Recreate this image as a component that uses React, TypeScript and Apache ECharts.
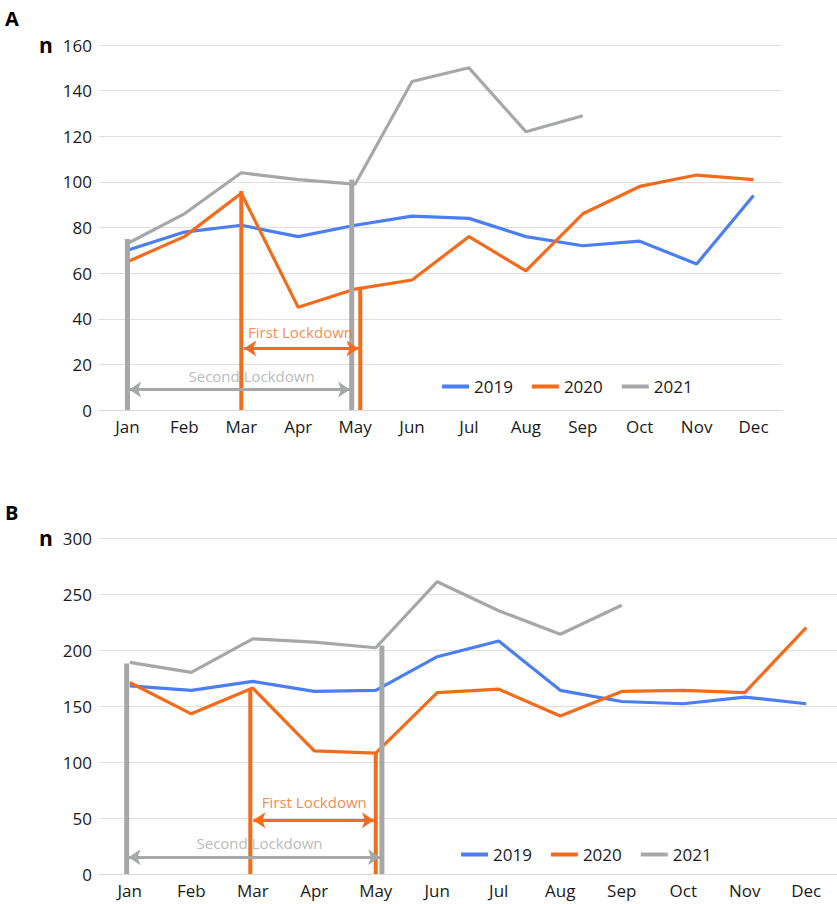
import React, { useEffect, useRef } from "react";
import * as echarts from "echarts";

const months = ["Jan", "Feb", "Mar", "Apr", "May", "Jun", "Jul", "Aug", "Sep", "Oct", "Nov", "Dec"];
const years = ["2019", "2020", "2021"];

// Panel A
const a2019 = [70, 78, 81, 76, 81, 85, 84, 76, 72, 74, 64, 94];
const a2020 = [65, 76, 95, 45, 53, 57, 76, 61, 86, 98, 103, 101];
const a2021 = [73, 86, 104, 101, 99, 144, 150, 122, 129];
const aTicks = { min: 0, max: 160, interval: 20 };
// lockdown markers (month index, heights)
const aFirst = { start: 2, end: 4.09, startTop: 96, endTop: 54, arrowY: 27, labelX: 3.04, labelY: 34 };
const aSecond = { start: 0, end: 3.94, startTop: 75, endTop: 101, arrowY: 9, labelX: 2.18, labelY: 15 };

// Panel B
const b2019 = [168, 164, 172, 163, 164, 194, 208, 164, 154, 152, 158, 152];
const b2020 = [171, 143, 166, 110, 108, 162, 165, 141, 163, 164, 162, 220];
const b2021 = [189, 180, 210, 207, 202, 261, 235, 214, 240];
const bTicks = { min: 0, max: 300, interval: 50 };
const bFirst = { start: 1.96, end: 4.0, startTop: 166, endTop: 108, arrowY: 48, labelX: 3.0, labelY: 64 };
const bSecond = { start: -0.05, end: 4.1, startTop: 188, endTop: 204, arrowY: 15, labelX: 2.11, labelY: 28 };

const BLUE = "#4A7EF2";
const ORANGE = "#F46B1C";
const GRAY = "#A6A8A7";
const FONT = "Open Sans";

function panelSeries(g: number, d19: number[], d20: number[], d21: number[], first: any, second: any) {
  const cx = 2 * g;
  const vx = 2 * g + 1;
  const dataLine = (name: string, data: number[], color: string) => ({
    type: "line",
    name,
    xAxisIndex: cx,
    yAxisIndex: g,
    data,
    symbol: "none",
    lineStyle: { color, width: 3.2 },
    itemStyle: { color },
    z: 3,
  });
  const vline = (x: number, top: number, color: string, width: number) => ({
    type: "line",
    xAxisIndex: vx,
    yAxisIndex: g,
    data: [[x, 0], [x, top]],
    symbol: "none",
    lineStyle: { color, width, cap: "butt" },
    silent: true,
    z: 4,
  });
  const arrow = (from: number, to: number, y: number, color: string) => ({
    type: "line",
    xAxisIndex: vx,
    yAxisIndex: g,
    data: [],
    silent: true,
    markLine: {
      silent: true,
      symbol: ["arrow", "arrow"],
      symbolSize: [12, 12],
      label: { show: false },
      lineStyle: { color, width: 3, type: "solid" },
      data: [[{ coord: [from, y] }, { coord: [to, y] }]],
    },
    z: 5,
  });
  const label = (x: number, y: number, text: string, color: string) => ({
    type: "scatter",
    xAxisIndex: vx,
    yAxisIndex: g,
    data: [[x, y]],
    symbolSize: 0,
    silent: true,
    label: {
      show: true,
      position: "inside",
      formatter: text,
      color,
      fontSize: 15,
      fontFamily: FONT,
    },
    z: 6,
  });
  return [
    dataLine("2019", d19, BLUE),
    dataLine("2020", d20, ORANGE),
    dataLine("2021", d21, GRAY),
    vline(second.start, second.startTop, GRAY, 5),
    vline(second.end, second.endTop, GRAY, 5),
    vline(first.start, first.startTop, ORANGE, 4),
    vline(first.end, first.endTop, ORANGE, 4),
    arrow(second.start + 0.03, second.end - 0.03, second.arrowY, GRAY),
    arrow(first.start + 0.05, first.end - 0.03, first.arrowY, ORANGE),
    label(first.labelX, first.labelY, "First Lockdown", ORANGE),
    label(second.labelX, second.labelY, "Second Lockdown", GRAY),
  ];
}

export default function App() {
  const ref = useRef<HTMLDivElement>(null);
  useEffect(() => {
    if (!ref.current) return;
    const chart = echarts.init(ref.current, null, { renderer: "svg" });
    const catAxis = (g: number) => ({
      type: "category",
      gridIndex: g,
      data: months,
      boundaryGap: true,
      axisLine: { show: true, lineStyle: { color: "#D9D9D9", width: 1 } },
      axisTick: { show: false },
      axisLabel: { color: "#1a1a1a", fontSize: 17, fontFamily: FONT, margin: 8 },
      splitLine: { show: false },
    });
    const valXAxis = (g: number) => ({
      type: "value",
      gridIndex: g,
      min: -0.5,
      max: 11.5,
      show: false,
    });
    const yAxis = (g: number, t: any) => ({
      type: "value",
      gridIndex: g,
      min: t.min,
      max: t.max,
      interval: t.interval,
      axisLine: { show: false },
      axisTick: { show: false },
      axisLabel: { color: "#1a1a1a", fontSize: 17, fontFamily: FONT, margin: 7 },
      splitLine: { show: true, lineStyle: { color: "#DEDEDE", width: 1 } },
    });
    const legend = (left: number, top: number) => ({
      data: years,
      left,
      top,
      icon: "rect",
      itemWidth: 27,
      itemHeight: 4,
      itemGap: 19,
      textStyle: { color: "#1a1a1a", fontSize: 17, fontFamily: FONT },
      selectedMode: false,
    });
    chart.setOption({
      animation: false,
      backgroundColor: "#fff",
      title: [
        { text: "A", left: 0, top: 3, textStyle: { fontSize: 20, fontWeight: "bold", color: "#000", fontFamily: FONT } },
        { text: "n", left: 34, top: 29, textStyle: { fontSize: 21, fontWeight: "bold", color: "#000", fontFamily: FONT } },
        { text: "B", left: 0, top: 497, textStyle: { fontSize: 20, fontWeight: "bold", color: "#000", fontFamily: FONT } },
        { text: "n", left: 34, top: 522, textStyle: { fontSize: 21, fontWeight: "bold", color: "#000", fontFamily: FONT } },
      ],
      legend: [legend(437, 373), legend(456, 841)],
      grid: [
        { left: 99, top: 45, width: 683, height: 365 },
        { left: 99, top: 538, width: 738, height: 336 },
      ],
      xAxis: [catAxis(0), valXAxis(0), catAxis(1), valXAxis(1)],
      yAxis: [yAxis(0, aTicks), yAxis(1, bTicks)],
      series: [
        ...panelSeries(0, a2019, a2020, a2021, aFirst, aSecond),
        ...panelSeries(1, b2019, b2020, b2021, bFirst, bSecond),
      ],
    });
    return () => chart.dispose();
  }, []);
  return (
    <div
      ref={ref}
      style={{ position: "fixed", left: 0, top: 0, width: 837, height: 904, background: "#fff" }}
    />
  );
}
